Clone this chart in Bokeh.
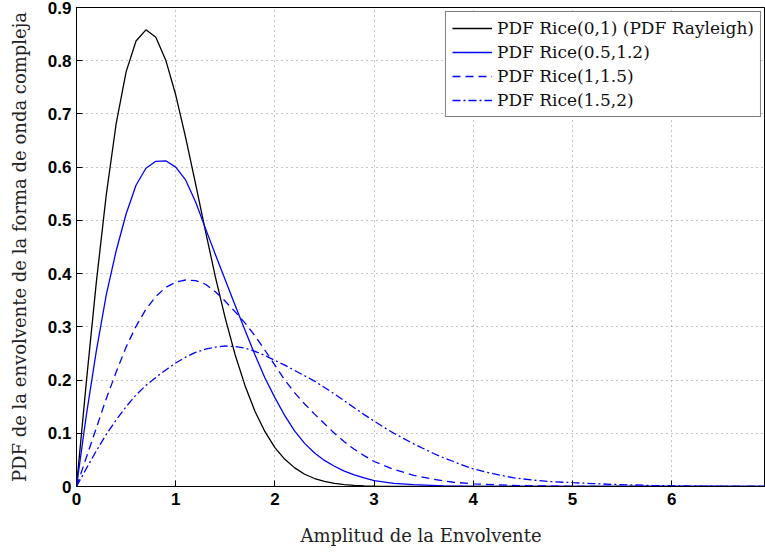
from bokeh.plotting import figure
from bokeh.models import Range1d, Legend, LegendItem, FixedTicker
from bokeh.embed import file_html
from bokeh.resources import INLINE

# ---- data ----
grid = [0.0, 0.1, 0.2, 0.3, 0.4, 0.5, 0.6, 0.7, 0.8, 0.9,
        1.0, 1.1, 1.2, 1.3, 1.4, 1.5, 1.6, 1.7, 1.8, 1.9,
        2.0, 2.1, 2.2, 2.3, 2.4, 2.5, 2.6, 2.7, 2.8, 2.9,
        3.0, 3.1, 3.2, 3.3, 3.4, 3.5, 3.6, 3.7, 3.8, 3.9, 4.0]

rayleigh_x = grid[:31] + [3.2, 3.5, 4.0, 5.0, 6.0, 7.0]
rayleigh_y = [0, 0.198, 0.384, 0.548, 0.682, 0.779, 0.837, 0.858, 0.844, 0.801,
              0.736, 0.656, 0.569, 0.480, 0.394, 0.316, 0.247, 0.189, 0.141, 0.103,
              0.073, 0.051, 0.035, 0.023, 0.015, 0.0097, 0.006, 0.0037, 0.0022, 0.0013,
              0.0007, 0.0002, 0.00003, 0, 0, 0, 0]

rice05_x = grid[:31] + [3.2, 3.4, 3.7, 4.0, 5.0, 6.0, 7.0]
rice05_y = [0, 0.135, 0.255, 0.36, 0.443, 0.512, 0.566, 0.598, 0.611, 0.612,
            0.600, 0.576, 0.535, 0.485, 0.436, 0.388, 0.34, 0.293, 0.247, 0.204,
            0.167, 0.133, 0.104, 0.081, 0.063, 0.049, 0.038, 0.029, 0.022, 0.016,
            0.011, 0.006, 0.0035, 0.0012, 0.0004, 0, 0, 0]

rice1_x = grid[:31] + [3.2, 3.4, 3.6, 3.8, 4.0, 4.5, 5.0, 6.0, 7.0]
rice1_y = [0, 0.055, 0.11, 0.165, 0.215, 0.262, 0.301, 0.333, 0.357, 0.374,
           0.384, 0.388, 0.387, 0.38, 0.366, 0.348, 0.328, 0.307, 0.283, 0.256,
           0.228, 0.2, 0.176, 0.155, 0.136, 0.118, 0.1, 0.084, 0.07, 0.058,
           0.047, 0.032, 0.021, 0.0135, 0.008, 0.005, 0.0015, 0.0004, 0, 0]

rice15_x = grid + [4.2, 4.4, 4.6, 4.8, 5.0, 5.2, 5.4, 5.6, 5.8, 6.0, 6.5, 7.0]
rice15_y = [0, 0.034, 0.067, 0.098, 0.125, 0.15, 0.172, 0.19, 0.205, 0.219,
            0.232, 0.243, 0.252, 0.258, 0.262, 0.264, 0.263, 0.26, 0.254, 0.246,
            0.237, 0.228, 0.218, 0.208, 0.198, 0.186, 0.174, 0.161, 0.148, 0.135,
            0.123, 0.111, 0.1, 0.09, 0.08, 0.071, 0.062, 0.054, 0.047, 0.0395,
            0.033, 0.024, 0.0165, 0.012, 0.009, 0.0072, 0.0055, 0.004, 0.003, 0.002,
            0.0012, 0.0004, 0.0001]

series_labels = ["PDF Rice(0,1) (PDF Rayleigh)", "PDF Rice(0.5,1.2)",
                 "PDF Rice(1,1.5)", "PDF Rice(1.5,2)"]

x_ticks = [0, 1, 2, 3, 4, 5, 6]
y_ticks = [0, 0.1, 0.2, 0.3, 0.4, 0.5, 0.6, 0.7, 0.8, 0.9]
y_tick_labels = ["0", "0.1", "0.2", "0.3", "0.4", "0.5", "0.6", "0.7", "0.8", "0.9"]

x_title = "Amplitud de la Envolvente"
y_title = "PDF de la envolvente de la forma de onda compleja"

# ---- figure ----
p = figure(width=765, height=554, output_backend="svg", toolbar_location=None,
           x_range=Range1d(0, 6.946), y_range=Range1d(0, 0.9),
           min_border_left=76, min_border_right=0, min_border_top=7,
           min_border_bottom=68)
p.background_fill_color = "white"
p.border_fill_color = "white"
p.outline_line_color = "black"
p.outline_line_width = 1
p.outline_line_alpha = 1

p.xaxis.ticker = FixedTicker(ticks=x_ticks)
p.yaxis.ticker = FixedTicker(ticks=y_ticks)
p.yaxis.major_label_overrides = {t: s for t, s in zip(y_ticks, y_tick_labels)}

for ax in (p.xaxis[0], p.yaxis[0]):
    ax.major_label_text_font = "Liberation Sans"
    ax.major_label_text_font_style = "bold"
    ax.major_label_text_font_size = "17px"
    ax.major_label_text_color = "black"
    ax.major_tick_in = 6
    ax.major_tick_out = 0
    ax.minor_tick_line_color = None
    ax.axis_line_color = "black"
    ax.axis_line_width = 1
    ax.axis_label_text_font = "DejaVu Serif"
    ax.axis_label_text_font_style = "normal"
    ax.axis_label_text_font_size = "18px"
    ax.axis_label_text_color = "#222222"

p.xaxis.axis_label = x_title
p.yaxis.axis_label = y_title
p.xaxis.major_label_standoff = 6
p.yaxis.major_label_standoff = 5
p.xaxis.axis_label_standoff = 17
p.yaxis.axis_label_standoff = 15

p.grid.grid_line_color = "#888888"
p.grid.grid_line_dash = "1 4"
p.grid.grid_line_width = 1

r1 = p.line(rayleigh_x, rayleigh_y, line_color="black", line_width=1.3)
r2 = p.line(rice05_x, rice05_y, line_color="#0000ff", line_width=1.3)
r3 = p.line(rice1_x, rice1_y, line_color="#0000ff", line_width=1.3, line_dash="8 5")
r4 = p.line(rice15_x, rice15_y, line_color="#0000ff", line_width=1.3, line_dash="8 3 2 3")

legend = Legend(items=[LegendItem(label=lab, renderers=[r])
                       for lab, r in zip(series_labels, [r1, r2, r3, r4])],
                location="top_right")
legend.border_line_color = "black"
legend.border_line_width = 1
legend.background_fill_color = "white"
legend.background_fill_alpha = 1
legend.label_text_font = "DejaVu Serif"
legend.label_text_font_size = "17px"
legend.label_text_color = "#111111"
legend.glyph_width = 40
legend.glyph_height = 20
legend.label_height = 20
legend.spacing = 4
legend.padding = 6
legend.margin = 4
legend.label_standoff = 5
p.add_layout(legend)

open("out.html", "w").write(file_html(p, INLINE))
